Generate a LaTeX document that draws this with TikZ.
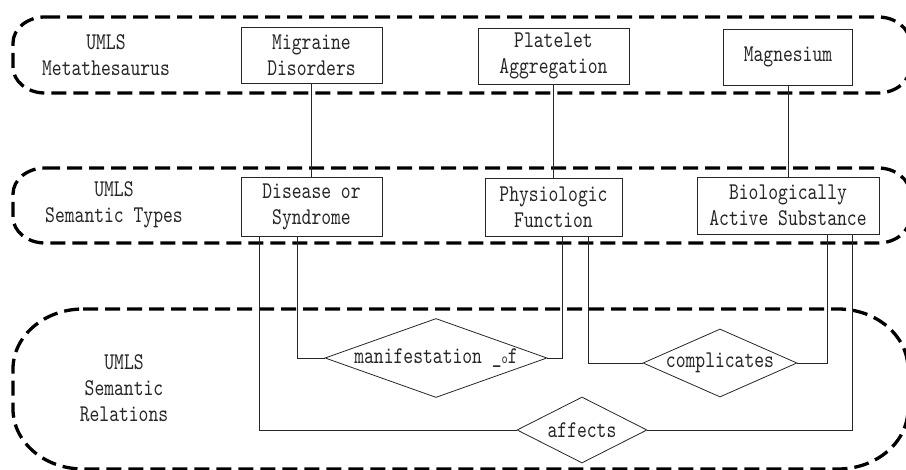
\documentclass[tikz,border=0pt]{standalone}
\usepackage{fontspec}
\setmainfont{lmmono10-regular}[Extension=.otf, FakeStretch=0.78]
\usetikzlibrary{shapes.geometric}
\newcommand\dfont{\fontsize{24}{26}\selectfont}
\begin{document}
\begin{tikzpicture}[x=1pt,y=-1pt,
  cont/.style={line width=3.3pt, dash pattern=on 15pt off 7pt, black},
  ent/.style={draw=black!85, line width=0.8pt, inner sep=0pt, align=center, font=\dfont, text=black!85},
  rel/.style={draw=black!85, diamond, line width=0.8pt, inner sep=0pt, font=\dfont, text=black!85},
  lbl/.style={align=center, inner sep=0pt, font=\dfont, text=black!85},
  conn/.style={line width=0.8pt, draw=black!85}]
\useasboundingbox (0,0) rectangle (906,470);
% containers
\draw[cont] (45,17) -- (878,17) .. controls (895.7,17) and (910,28.6) .. (910,43) -- (910,67) .. controls (910,81.4) and (895.7,93) .. (878,93) -- (45,93) .. controls (27.3,93) and (13,81.4) .. (13,67) -- (13,43) .. controls (13,28.6) and (27.3,17) .. (45,17) -- cycle;
\draw[cont] (45,168) -- (878,168) .. controls (895.7,168) and (910,179.6) .. (910,194) -- (910,217) .. controls (910,231.4) and (895.7,243) .. (878,243) -- (45,243) .. controls (27.3,243) and (13,231.4) .. (13,217) -- (13,194) .. controls (13,179.6) and (27.3,168) .. (45,168) -- cycle;
\draw[cont] (83,309) -- (838,309) .. controls (876.6,309) and (908,335.9) .. (908,369) -- (908,409) .. controls (908,442.1) and (876.6,469) .. (838,469) -- (83,469) .. controls (44.4,469) and (13,442.1) .. (13,409) -- (13,369) .. controls (13,335.9) and (44.4,309) .. (83,309) -- cycle;
% container labels
\node[lbl] (l1) at (106,55) {UMLS\\Metathesaurus};
\node[lbl] (l2) at (114,205) {UMLS\\Semantic Types};
\node[lbl] (l3) at (124,388) {UMLS\\Semantic\\Relations};
% entities
\node[ent, minimum width=141pt, minimum height=56pt] (mig) at (311.5,55) {Migraine\\Disorders};
\node[ent, minimum width=151pt, minimum height=56pt] (plat) at (553.5,56) {Platelet\\Aggregation};
\node[ent, minimum width=129pt, minimum height=56pt] (mag) at (788,57) {Magnesium};
\node[ent, minimum width=141pt, minimum height=59pt] (dis) at (311.5,206.5) {Disease or\\Syndrome};
\node[ent, minimum width=137pt, minimum height=58pt] (phys) at (553.5,207) {Physiologic\\Function};
\node[ent, minimum width=182pt, minimum height=57pt] (bio) at (788,205.5) {Biologically\\Active Substance};
% relations
\node[rel, minimum width=222pt, minimum height=79pt] (man) at (436,358) {\makebox[0pt]{manifestation \_{\fontsize{15}{15}\selectfont o}f}};
\node[rel, minimum width=154pt, minimum height=68pt] (comp) at (720,363) {\makebox[0pt]{complicates}};
\node[rel, minimum width=130pt, minimum height=66pt] (aff) at (582,430) {\makebox[0pt]{affects}};
% connectors
\draw[conn] (mig) -- (dis);
\draw[conn] (plat) -- (phys);
\draw[conn] (mag) -- (bio);
\draw[conn] (dis.south) ++(-14.5,0) |- (man.west);
\draw[conn] (phys.south) ++(8.5,0) |- (man.east);
\draw[conn] (phys.south) ++(34.5,0) |- (comp.west);
\draw[conn] (bio.south) ++(39,0) |- (comp.east);
\draw[conn] (dis.south) ++(-52.5,0) |- (aff.west);
\draw[conn] (bio.south) ++(64,0) |- (aff.east);
\end{tikzpicture}
\end{document}
